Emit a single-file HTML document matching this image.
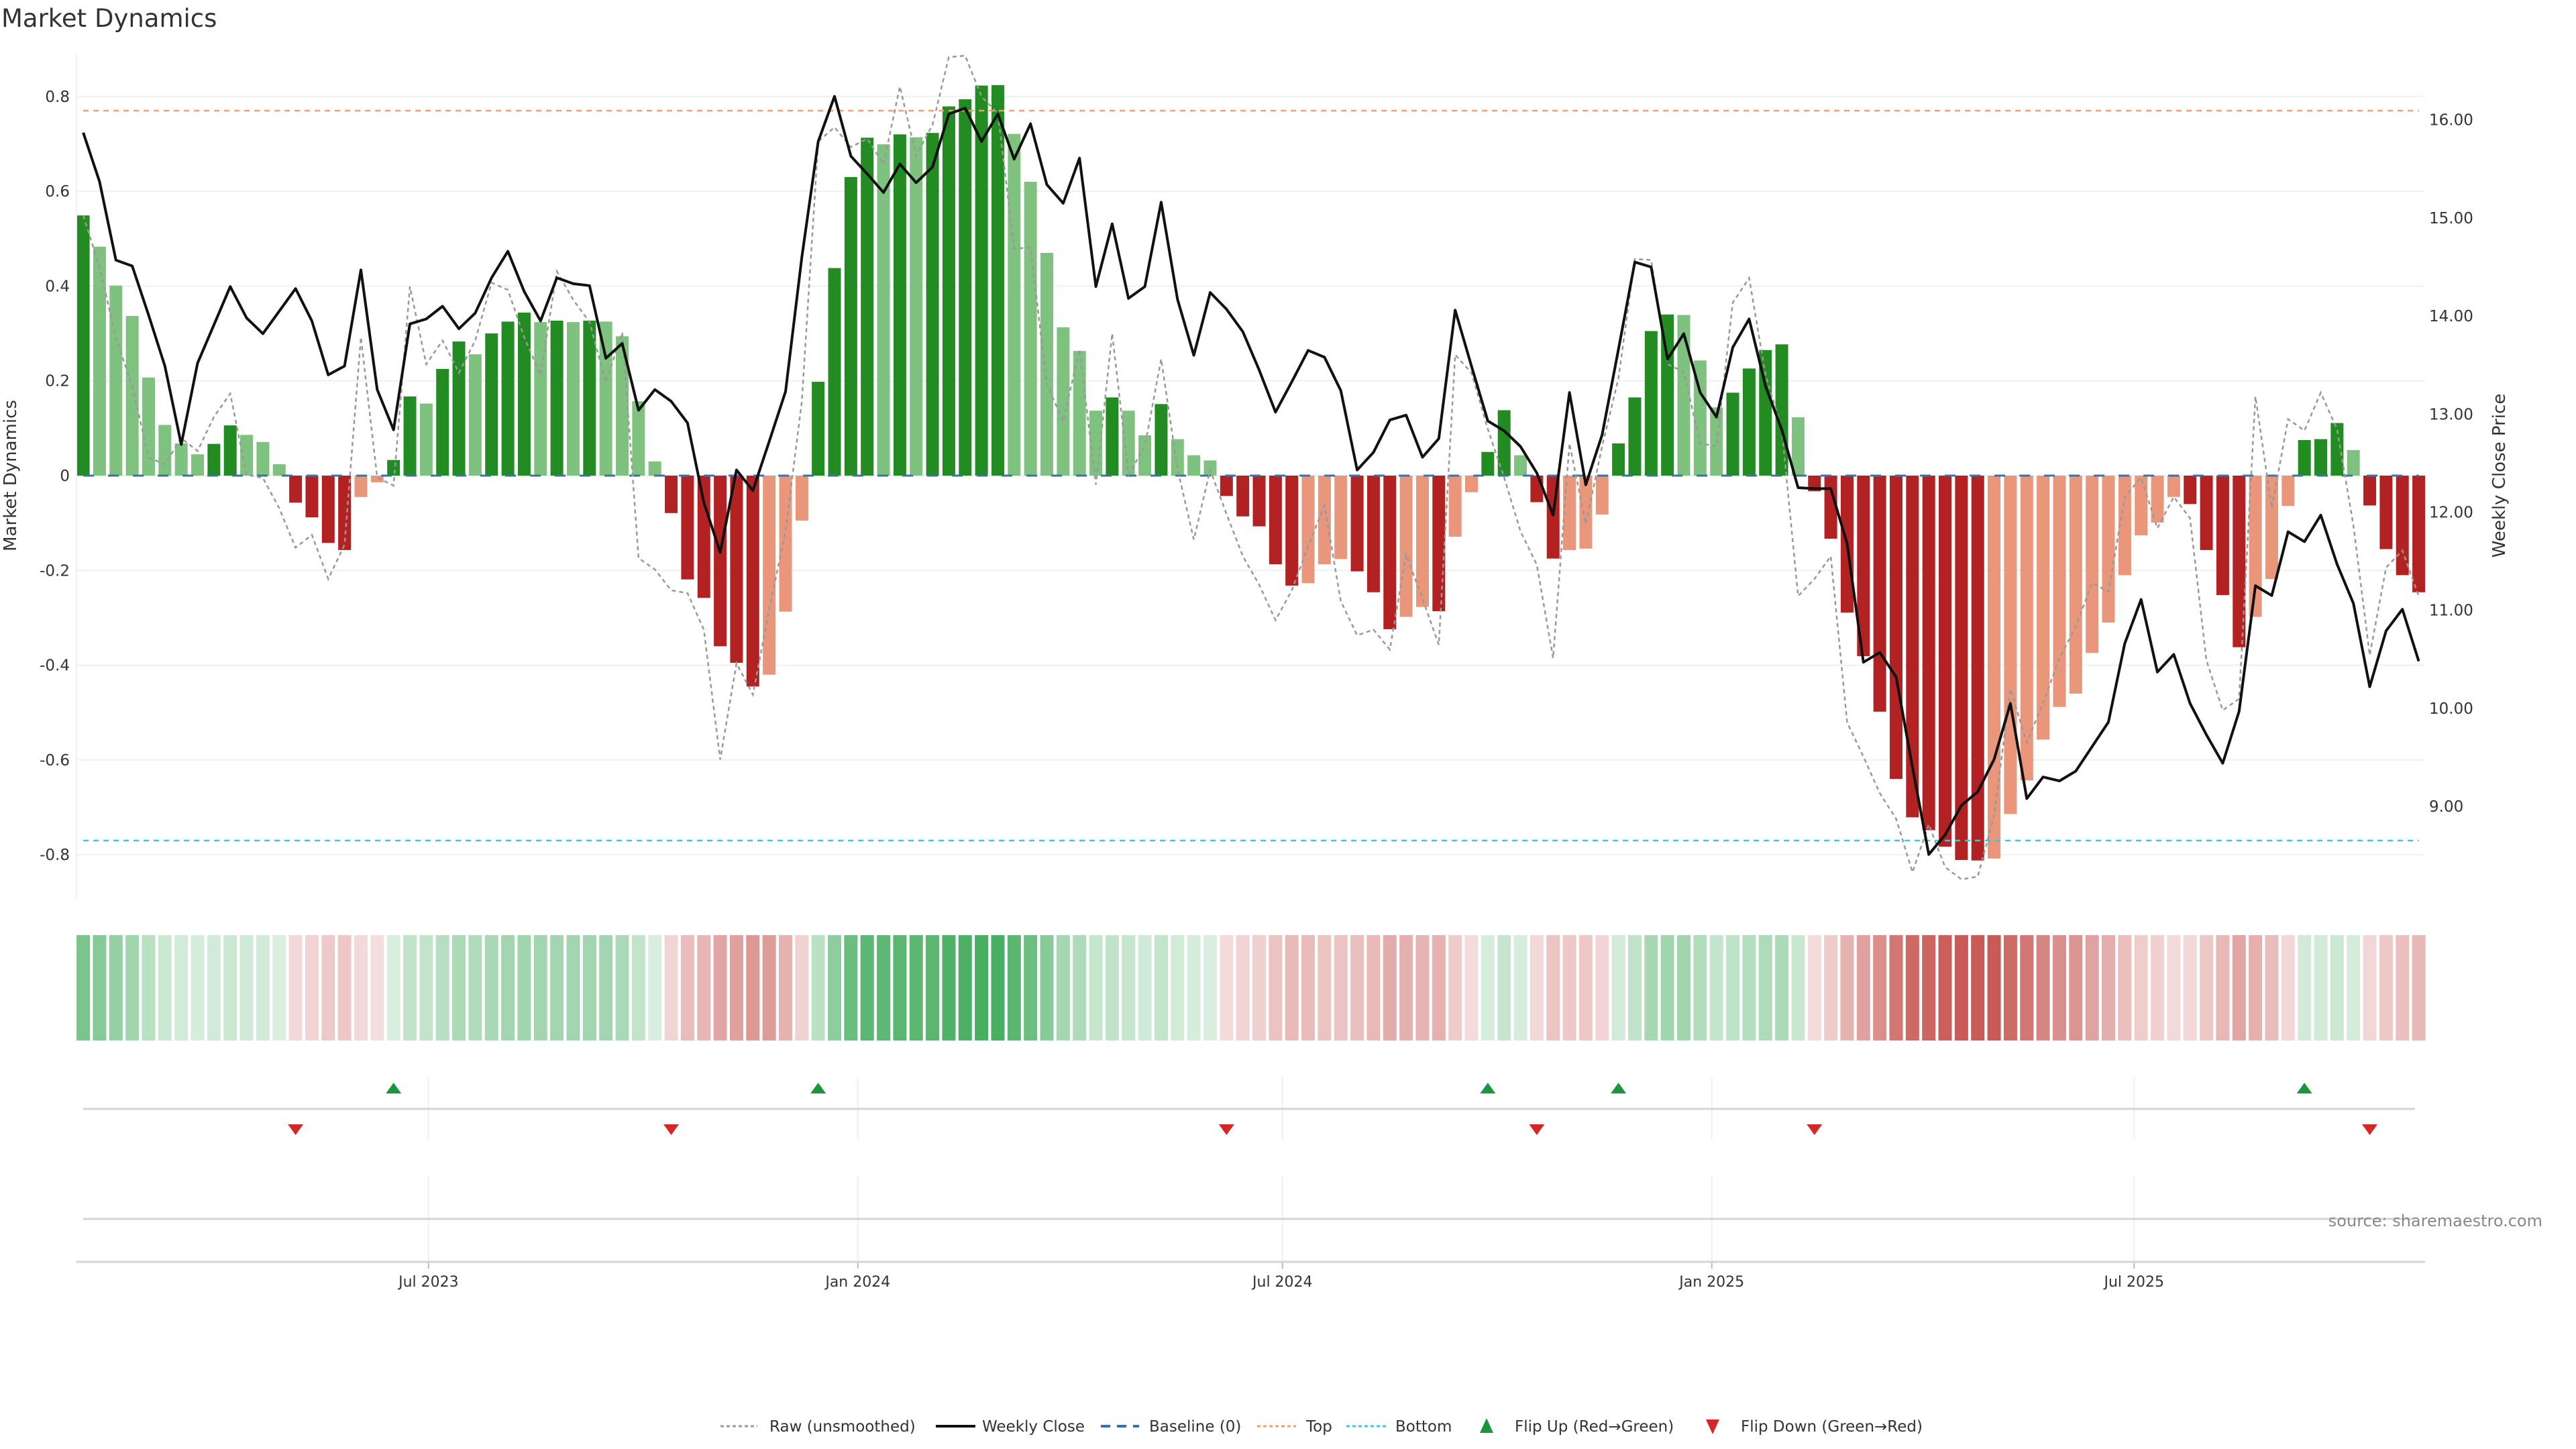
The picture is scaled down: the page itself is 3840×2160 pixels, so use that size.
<!DOCTYPE html>
<html><head><meta charset="utf-8"><style>
html,body{margin:0;padding:0;background:#fff;}
svg{display:block;font-family:"DejaVu Sans","Liberation Sans",sans-serif;}
</style></head><body>
<svg id="chart" xmlns="http://www.w3.org/2000/svg" width="3840" height="2160" viewBox="0 0 3840 2160">
<text x="2" y="40" font-size="37" fill="#333">Market Dynamics</text>
<g id="grid"></g>
<g id="bars"></g>
<g id="lines"></g>
<g id="axes"></g>
<g id="heat"></g>
<g id="flips"></g>
<text transform="translate(24,709) rotate(-90)" text-anchor="middle" font-size="26" fill="#333">Market Dynamics</text>
<text transform="translate(3734,709) rotate(-90)" text-anchor="middle" font-size="26" fill="#333">Weekly Close Price</text>
<text x="3790" y="1828" text-anchor="end" font-size="24" fill="#888">source: sharemaestro.com</text>
<g font-size="23" fill="#333">
  <g><line x1="1074" y1="2126" x2="1129" y2="2126" stroke="#999" stroke-width="3" stroke-dasharray="5,4"/><text x="1147" y="2134">Raw (unsmoothed)</text></g>
  <g><line x1="1395" y1="2126" x2="1454" y2="2126" stroke="#111" stroke-width="4"/><text x="1464" y="2134">Weekly Close</text></g>
  <g><line x1="1641" y1="2126" x2="1698" y2="2126" stroke="#3a72a8" stroke-width="4" stroke-dasharray="14,10"/><text x="1713" y="2134">Baseline (0)</text></g>
  <g><line x1="1874" y1="2126" x2="1932" y2="2126" stroke="#f0a070" stroke-width="3" stroke-dasharray="5,4"/><text x="1947" y="2134">Top</text></g>
  <g><line x1="2007" y1="2126" x2="2066" y2="2126" stroke="#3cc8d8" stroke-width="3" stroke-dasharray="5,4"/><text x="2080" y="2134">Bottom</text></g>
  <g><polygon points="2216,2114 2226,2136 2206,2136" fill="#1a9641"/><text x="2258" y="2134">Flip Up (Red→Green)</text></g>
  <g><polygon points="2543,2116 2563,2116 2553,2138" fill="#d62728"/><text x="2595" y="2134">Flip Down (Green→Red)</text></g>
</g>
</svg>
<script>
// ---- data ----
const startDate = "2023-02-03";
const dynamics = [0.549,0.483,0.401,0.337,0.207,0.107,0.068,0.045,0.067,0.106,0.086,0.071,0.024,-0.057,-0.088,-0.142,-0.157,-0.045,-0.014,0.033,
0.167,0.152,0.225,0.283,0.256,0.300,0.325,0.344,0.324,0.327,0.324,0.327,0.325,0.294,0.157,0.030,-0.079,-0.219,-0.258,-0.360,
-0.395,-0.445,-0.420,-0.287,-0.095,0.198,0.438,0.630,0.713,0.699,0.720,0.714,0.723,0.779,0.794,0.823,0.824,0.721,0.620,0.470,
0.313,0.263,0.137,0.165,0.137,0.085,0.151,0.077,0.043,0.032,-0.043,-0.086,-0.107,-0.187,-0.232,-0.227,-0.187,-0.176,-0.202,-0.246,
-0.324,-0.298,-0.277,-0.286,-0.129,-0.035,0.050,0.138,0.043,-0.056,-0.175,-0.157,-0.154,-0.082,0.068,0.165,0.305,0.340,0.339,0.243,
0.144,0.175,0.226,0.265,0.277,0.123,-0.033,-0.133,-0.289,-0.381,-0.498,-0.640,-0.721,-0.748,-0.783,-0.811,-0.812,-0.808,-0.714,-0.643,
-0.557,-0.488,-0.460,-0.374,-0.310,-0.210,-0.126,-0.099,-0.045,-0.060,-0.157,-0.252,-0.362,-0.298,-0.218,-0.064,0.075,0.077,0.111,0.054,
-0.063,-0.155,-0.210,-0.246];
const weeklyClose = [15.87,15.37,14.57,14.51,14.01,13.49,12.69,13.52,13.91,14.30,13.98,13.82,14.05,14.28,13.95,13.40,13.49,14.47,13.25,12.84,
13.92,13.97,14.10,13.87,14.03,14.39,14.66,14.25,13.95,14.39,14.33,14.31,13.57,13.72,13.04,13.25,13.13,12.91,12.10,11.59,
12.43,12.22,12.72,13.23,14.60,15.78,16.24,15.63,15.45,15.26,15.55,15.36,15.52,16.06,16.12,15.78,16.06,15.60,15.96,15.34,
15.15,15.61,14.30,14.94,14.18,14.30,15.16,14.17,13.60,14.24,14.07,13.84,13.45,13.02,13.33,13.65,13.58,13.24,12.43,12.61,
12.94,12.99,12.56,12.75,14.06,13.49,12.93,12.83,12.67,12.40,11.97,13.22,12.28,12.79,13.66,14.55,14.50,13.56,13.82,13.22,
12.97,13.68,13.97,13.29,12.84,12.25,12.24,12.24,11.68,10.47,10.57,10.32,9.40,8.51,8.71,9.01,9.15,9.48,10.05,9.08,
9.30,9.26,9.36,9.61,9.86,10.66,11.11,10.37,10.55,10.05,9.73,9.44,9.97,11.25,11.15,11.80,11.70,11.97,11.47,11.07,
10.22,10.79,11.01,10.48];
const raw = [0.549,0.44,0.29,0.19,0.038,0.024,0.079,0.052,0.124,0.173,0.002,-0.005,-0.069,-0.152,-0.125,-0.218,-0.146,0.292,-0.004,-0.021,
0.399,0.235,0.285,0.217,0.285,0.407,0.392,0.292,0.212,0.431,0.371,0.324,0.196,0.302,-0.174,-0.198,-0.242,-0.248,-0.325,-0.599,
-0.396,-0.462,-0.283,-0.117,0.157,0.705,0.735,0.693,0.711,0.657,0.821,0.675,0.740,0.883,0.886,0.800,0.764,0.479,0.481,0.193,
0.114,0.267,-0.019,0.300,0.002,0.062,0.246,0.014,-0.135,0.012,-0.081,-0.170,-0.230,-0.305,-0.242,-0.149,-0.063,-0.265,-0.337,-0.325,
-0.367,-0.167,-0.260,-0.357,0.255,0.217,0.098,-0.004,-0.117,-0.188,-0.385,0.068,-0.102,0.062,0.205,0.457,0.455,0.235,0.219,0.068,
0.062,0.365,0.417,0.214,0.098,-0.254,-0.218,-0.170,-0.521,-0.593,-0.670,-0.724,-0.837,-0.736,-0.826,-0.852,-0.846,-0.718,-0.450,-0.563,
-0.480,-0.385,-0.319,-0.226,-0.245,-0.045,-0.004,-0.111,-0.045,-0.090,-0.390,-0.495,-0.471,0.167,-0.069,0.119,0.095,0.175,0.098,-0.105,
-0.379,-0.194,-0.158,-0.254];
const leftTicks = [0.8,0.6,0.4,0.2,0,-0.2,-0.4,-0.6,-0.8];
const leftTickLabels = ["0.8","0.6","0.4","0.2","0","-0.2","-0.4","-0.6","-0.8"];
const rightTicks = [16,15,14,13,12,11,10,9];
const rightTickLabels = ["16.00","15.00","14.00","13.00","12.00","11.00","10.00","9.00"];
const xTickDates = ["2023-07-01","2024-01-01","2024-07-01","2025-01-01","2025-07-01"];
const xTickLabels = ["Jul 2023","Jan 2024","Jul 2024","Jan 2025","Jul 2025"];
const topLevel = 0.77, bottomLevel = -0.77;

// ---- scales ----
const NS = "http://www.w3.org/2000/svg";
const t0 = Date.parse(startDate);
const PX_PER_DAY = 3.478, X0 = 124.1;
function xDate(s){ return X0 + (Date.parse(s) - t0) / 86400000 * PX_PER_DAY; }
function xi(i){ return X0 + i * 7 * PX_PER_DAY; }
function yL(v){ return 709 - v * 706.5; }
function yR(p){ return 178.7 + (16 - p) * 146.2; }
const PL = 114, PR = 3615, PT = 81, PB = 1339;
function mk(tag, attrs, parent){ const e = document.createElementNS(NS, tag); for (const k in attrs) e.setAttribute(k, attrs[k]); parent.appendChild(e); return e; }
const grid = document.getElementById('grid'), bars = document.getElementById('bars'), lines = document.getElementById('lines'), axes = document.getElementById('axes'), heat = document.getElementById('heat'), flips = document.getElementById('flips');

// grid + left ticks
leftTicks.forEach((v, k) => {
  const g = mk('line', {x1: PL, x2: PR, y1: yL(v), y2: yL(v), stroke: '#edf0f4', 'stroke-width': 2}, grid);
  
  
  const t = mk('text', {x: 104, y: yL(v) + 8, 'text-anchor': 'end', 'font-size': 23, fill: '#333'}, axes);
  t.textContent = leftTickLabels[k];
  
  
});
rightTicks.forEach((p, k) => {
  const t = mk('text', {x: 3621, y: yR(p) + 8, 'font-size': 23, fill: '#333'}, axes);
  t.textContent = rightTickLabels[k];
  
  
});
const sp = mk('line', {x1: PL, x2: PL, y1: PT, y2: PB, stroke: '#edf0f4', 'stroke-width': 2}, axes);



// bars
const BW = 19;
dynamics.forEach((v, i) => {
  const prev = i > 0 ? dynamics[i - 1] : 0;
  let col;
  if (v >= 0) col = (i === 0 || prev < 0 || v > prev) ? '#228b22' : '#7fc17f';
  else col = (prev >= 0 || v < prev) ? '#b22222' : '#e9967a';
  const y0 = yL(0), y1 = yL(v);
  const r = mk('rect', {x: xi(i) - BW / 2, y: Math.min(y0, y1), width: BW, height: Math.abs(y1 - y0), fill: col}, bars);
  
  
});

// reference lines
const xa = xi(0), xb = xi(dynamics.length - 1);
let l = mk('line', {x1: xa, x2: xb, y1: yL(0), y2: yL(0), stroke: '#3a72a8', 'stroke-width': 3, 'stroke-dasharray': '16,21'}, lines);


l = mk('line', {x1: xa, x2: xb, y1: yL(topLevel), y2: yL(topLevel), stroke: '#f0a070', 'stroke-width': 2.5, 'stroke-dasharray': '8,7'}, lines);


l = mk('line', {x1: xa, x2: xb, y1: yL(bottomLevel), y2: yL(bottomLevel), stroke: '#3cc8d8', 'stroke-width': 2.5, 'stroke-dasharray': '8,7'}, lines);



// raw + close
let d = raw.map((v, i) => (i ? 'L' : 'M') + xi(i).toFixed(1) + ' ' + yL(v).toFixed(1)).join(' ');
l = mk('path', {d: d, fill: 'none', stroke: '#999', 'stroke-width': 2.5, 'stroke-dasharray': '6,5'}, lines);


d = weeklyClose.map((p, i) => (i ? 'L' : 'M') + xi(i).toFixed(1) + ' ' + yR(p).toFixed(1)).join(' ');
l = mk('path', {d: d, fill: 'none', stroke: '#111', 'stroke-width': 4, 'stroke-linejoin': 'round'}, lines);



// heat strip
dynamics.forEach((v, i) => {
  const a = Math.min(1, 0.15 + 0.7 * Math.abs(v) / 0.82);
  const base = v >= 0 ? [40, 160, 70] : [190, 60, 55];
  const c = base.map(b => Math.round(255 - (255 - b) * a));
  const r = mk('rect', {x: xi(i) - 10, y: 1394, width: 20, height: 157, fill: 'rgb(' + c.join(',') + ')'}, heat);
  
  
});

// flip panel + bottom panel + x axis
xTickDates.forEach((s, k) => {
  const x = xDate(s);
  let g = mk('line', {x1: x, x2: x, y1: 1606, y2: 1699, stroke: '#edf0f4', 'stroke-width': 2}, grid);
  
  
  g = mk('line', {x1: x, x2: x, y1: 1754, y2: 1880, stroke: '#edf0f4', 'stroke-width': 2}, grid);
  
  
  g = mk('line', {x1: x, x2: x, y1: 1881, y2: 1891, stroke: '#bbb', 'stroke-width': 2}, axes);
  
  
  const t = mk('text', {x: x, y: 1918, 'text-anchor': 'middle', 'font-size': 22, fill: '#333'}, axes);
  t.textContent = xTickLabels[k];
  
  
});
l = mk('line', {x1: 124, x2: 3600, y1: 1653, y2: 1653, stroke: '#d4d4d4', 'stroke-width': 3}, axes);


l = mk('line', {x1: 124, x2: 3600, y1: 1817, y2: 1817, stroke: '#d4d4d4', 'stroke-width': 3}, axes);


l = mk('line', {x1: 114, x2: 3615, y1: 1881, y2: 1881, stroke: '#d4d4d4', 'stroke-width': 3}, axes);



for (let i = 1; i < dynamics.length; i++) {
  const x = xi(i);
  if (dynamics[i - 1] < 0 && dynamics[i] >= 0) {
    const p = mk('polygon', {points: (x) + ',1614 ' + (x + 11.5) + ',1630 ' + (x - 11.5) + ',1630', fill: '#1a9641'}, flips);
    
    
  } else if (dynamics[i - 1] >= 0 && dynamics[i] < 0) {
    const p = mk('polygon', {points: (x - 11.5) + ',1676 ' + (x + 11.5) + ',1676 ' + x + ',1692', fill: '#d62728'}, flips);
    
    
  }
}
</script>
</body></html>
